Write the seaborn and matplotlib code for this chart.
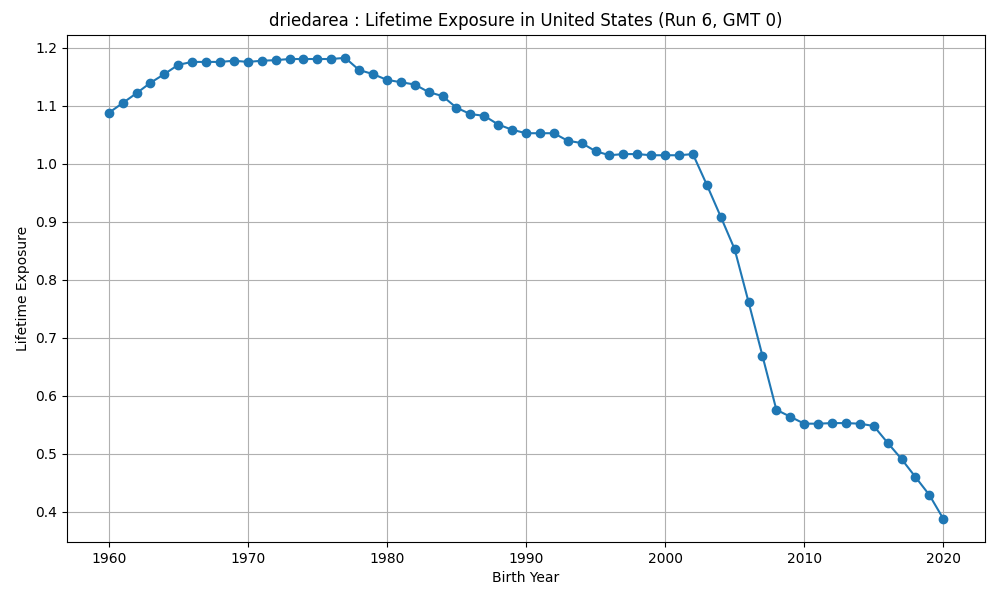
import matplotlib
matplotlib.use("Agg")
import matplotlib.pyplot as plt
import pandas as pd
import seaborn as sns

# Data
years = list(range(1960, 2021))
exposure = [1.088, 1.105, 1.122, 1.140, 1.155, 1.171, 1.176, 1.176, 1.176, 1.178,
            1.176, 1.178, 1.179, 1.181, 1.181, 1.181, 1.181, 1.183, 1.162, 1.155,
            1.145, 1.141, 1.137, 1.124, 1.117, 1.097, 1.086, 1.083, 1.068, 1.059,
            1.053, 1.053, 1.053, 1.040, 1.036, 1.022, 1.015, 1.017, 1.017, 1.015,
            1.015, 1.015, 1.017, 0.964, 0.909, 0.853, 0.762, 0.669, 0.576, 0.564,
            0.552, 0.552, 0.553, 0.553, 0.552, 0.548, 0.519, 0.491, 0.460, 0.429,
            0.388]

df = pd.DataFrame({'Birth Year': years, 'Lifetime Exposure': exposure})

fig, ax = plt.subplots(figsize=(10, 6), dpi=100)

# line with round markers, plain matplotlib look
sns.lineplot(x='Birth Year', y='Lifetime Exposure', data=df, ax=ax,
             color='#1f77b4', marker='o', markersize=6,
             markeredgecolor='#1f77b4', markeredgewidth=1, linewidth=1.5)

ax.set_title('driedarea : Lifetime Exposure in United States (Run 6, GMT 0)')
ax.set_xlabel('Birth Year')
ax.set_ylabel('Lifetime Exposure')
ax.grid(True)

plt.subplots_adjust(left=0.067, right=0.985, top=0.942, bottom=0.097)
plt.savefig('out.png')
